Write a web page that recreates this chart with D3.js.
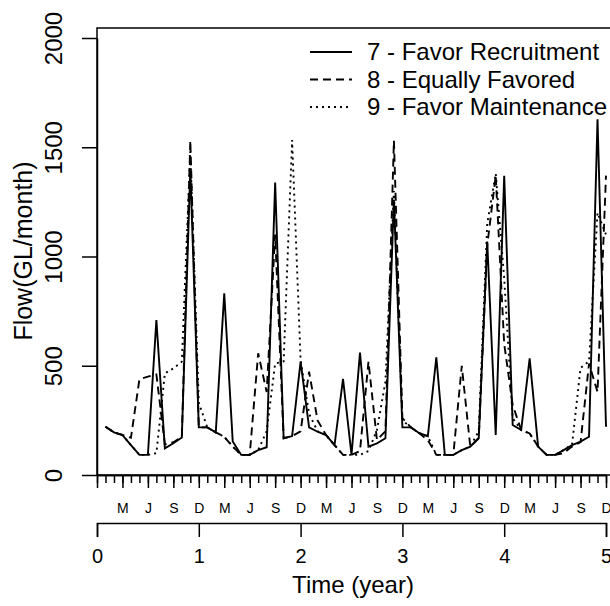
<!DOCTYPE html>
<html>
<head>
<meta charset="utf-8">
<script src="https://cdn.jsdelivr.net/npm/d3@7"></script>
<style>
body { margin: 0; background: #fff; }
text { font-family: "Liberation Sans", Arial, sans-serif; fill: #000; }
</style>
</head>
<body>
<div class="chart"></div>
<script>
// Monthly flow, three release strategies (GL/month)

// Data
let months = d3.range(1, 61);
let favorRecruitment = [221, 195, 183, 137, 92, 92, 709, 122, 145, 172, 1400, 218,
  218, 195, 831, 153, 92, 92, 114, 127, 1338, 168, 178, 519,
  218, 198, 183, 137, 440, 92, 560, 130, 145, 168, 1260, 218,
  218, 191, 178, 539, 92, 92, 114, 130, 168, 1068, 183, 1369,
  229, 206, 534, 130, 92, 92, 114, 137, 153, 175, 1628, 221];
let equallyFavored = [221, 195, 183, 170, 438, 450, 460, 140, 150, 175, 1530, 218,
  218, 195, 175, 130, 92, 92, 557, 380, 1100, 168, 178, 200,
  473, 250, 183, 137, 92, 92, 110, 519, 160, 200, 1530, 260,
  218, 191, 160, 92, 92, 92, 500, 130, 170, 1050, 1370, 600,
  320, 206, 190, 130, 92, 92, 100, 130, 150, 510, 380, 1370];
let favorMaintenance = [221, 195, 183, 137, 92, 92, 100, 465, 488, 519, 1480, 330,
  218, 195, 175, 130, 92, 92, 114, 200, 510, 520, 1533, 526,
  280, 200, 183, 137, 92, 92, 92, 110, 206, 427, 1300, 250,
  218, 191, 178, 92, 92, 92, 114, 130, 200, 1150, 1380, 900,
  260, 206, 190, 130, 92, 92, 114, 140, 490, 520, 1200, 1100];
let seriesNames = ['7 - Favor Recruitment', '8 - Equally Favored', '9 - Favor Maintenance'];
let yTicks = [0, 500, 1000, 1500, 2000];
let yearTicks = [0, 1, 2, 3, 4, 5];
let monthLabels = ['M', 'J', 'S', 'D'];

let series = [
  {name: seriesNames[0], values: favorRecruitment, dash: null},
  {name: seriesNames[1], values: equallyFavored, dash: '8,5'},
  {name: seriesNames[2], values: favorMaintenance, dash: '2,4'}
];

// Layout
let W = 610, H = 606;
let plotLeft = 97, plotTop = 28, plotBottom = 475;

let xScale = d3.scaleLinear().domain([0, 5]).range([97, 606]);
let yScale = d3.scaleLinear().domain([0, 2000]).range([475, 38]);

let svg = d3.select('.chart')
  .append('svg')
  .attr('width', W)
  .attr('height', H);

svg.append('defs').append('clipPath')
  .attr('id', 'clip')
  .append('rect')
  .attr('x', plotLeft).attr('y', plotTop)
  .attr('width', W - plotLeft).attr('height', plotBottom - plotTop);

// lines
let line = d3.line()
  .x(function(d, i) { return xScale(months[i] / 12); })
  .y(function(d) { return yScale(d); });

svg.append('g')
  .attr('clip-path', 'url(#clip)')
  .selectAll('path')
  .data(series)
  .enter().append('path')
  .attr('d', function(d) { return line(d.values); })
  .attr('fill', 'none')
  .attr('stroke', '#000')
  .attr('stroke-width', 1.9)
  .attr('stroke-dasharray', function(d) { return d.dash; });

// box
svg.append('rect')
  .attr('x', plotLeft).attr('y', plotTop)
  .attr('width', 700).attr('height', plotBottom - plotTop)
  .attr('fill', 'none')
  .attr('stroke', '#000')
  .attr('stroke-width', 1.5);

// y axis
let yAxis = d3.axisLeft(yScale)
  .tickValues(yTicks)
  .tickSize(15)
  .tickSizeOuter(0)
  .tickFormat(d3.format('d'));
let gy = svg.append('g')
  .attr('transform', 'translate(' + plotLeft + ',0)')
  .call(yAxis);
gy.selectAll('text')
  .attr('transform', 'rotate(-90)')
  .attr('x', 0)
  .attr('y', -35)
  .attr('dy', 0)
  .attr('text-anchor', 'middle')
  .style('font-size', '24px');

// month axis: minor ticks every month, labels every quarter
let gMinor = svg.append('g')
  .attr('transform', 'translate(0,' + plotBottom + ')')
  .call(d3.axisBottom(xScale)
    .tickValues(d3.range(0, 61).map(function(m) { return m / 12; }))
    .tickSize(8)
    .tickSizeOuter(0)
    .tickFormat(''));
let gMajor = svg.append('g')
  .attr('transform', 'translate(0,' + plotBottom + ')')
  .call(d3.axisBottom(xScale)
    .tickValues(d3.range(0, 21).map(function(q) { return q / 4; }))
    .tickSize(13)
    .tickSizeOuter(0)
    .tickPadding(15)
    .tickFormat(function(d, i) { return i == 0 ? '' : monthLabels[(i - 1) % 4]; }));
gMajor.selectAll('text').style('font-size', '14px');

// year axis
let gYear = svg.append('g')
  .attr('transform', 'translate(0,523)')
  .call(d3.axisBottom(xScale)
    .tickValues(yearTicks)
    .tickSize(14)
    .tickPadding(12)
    .tickFormat(d3.format('d')));
gYear.selectAll('text').style('font-size', '20px');

svg.selectAll('.domain, .tick line')
  .attr('stroke', '#000')
  .attr('stroke-width', 1.5);

// axis titles
svg.append('text')
  .attr('x', 353)
  .attr('y', 593)
  .attr('text-anchor', 'middle')
  .style('font-size', '24px')
  .text('Time (year)');

svg.append('text')
  .attr('transform', 'translate(32,251) rotate(-90)')
  .attr('text-anchor', 'middle')
  .style('font-size', '25px')
  .text('Flow(GL/month)');

// legend
let legend = svg.append('g')
  .selectAll('g')
  .data(series)
  .enter().append('g')
  .attr('transform', function(d, i) { return 'translate(0,' + (52 + i * 27.5) + ')'; });
legend.append('line')
  .attr('x1', 310).attr('x2', 352)
  .attr('stroke', '#000')
  .attr('stroke-width', 1.9)
  .attr('stroke-dasharray', function(d) { return d.dash; });
legend.append('text')
  .attr('x', 367)
  .attr('y', 8)
  .style('font-size', '24px')
  .text(function(d) { return d.name; });
</script>
</body>
</html>
